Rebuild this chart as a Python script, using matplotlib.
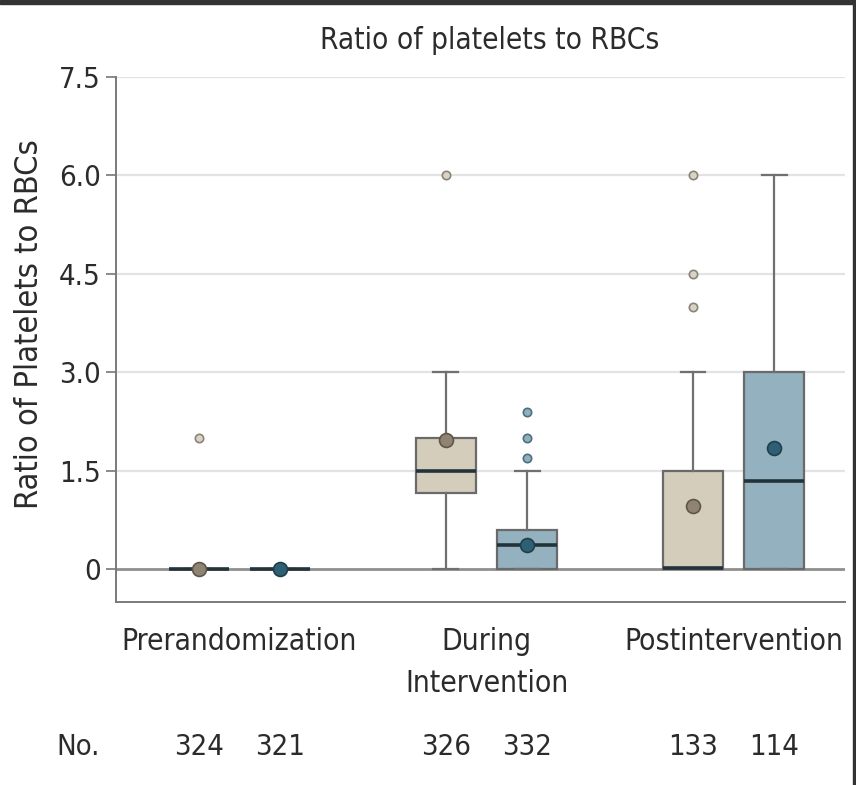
import matplotlib
matplotlib.use("Agg")
import matplotlib.pyplot as plt
from matplotlib.patches import Rectangle

plt.rcParams['font.family'] = ['DejaVu Sans']
plt.rcParams['font.stretch'] = 'condensed'

# data
groups = ["Prerandomization", "During\nIntervention", "Postintervention"]
counts = [324, 321, 326, 332, 133, 114]
q1 = [0.0, 0.0, 1.16, 0.0, 0.0, 0.0]
medians = [0.0, 0.0, 1.5, 0.37, 0.02, 1.34]
q3 = [0.0, 0.0, 2.0, 0.6, 1.5, 3.0]
whis_lo = [0.0, 0.0, 0.0, 0.0, 0.0, 0.0]
whis_hi = [0.0, 0.0, 3.0, 1.5, 3.0, 6.0]
means = [0.0, 0.0, 1.97, 0.37, 0.96, 1.84]
outliers = [[2.0], [], [6.0], [1.7, 2.0, 2.4], [4.0, 4.5, 6.0], []]
yticks = [0, 1.5, 3.0, 4.5, 6.0, 7.5]
ytick_labels = ["0", "1.5", "3.0", "4.5", "6.0", "7.5"]

tan = "#d5cdbc"
blue = "#93b1bf"
txt = "#2b2b2b"

fig = plt.figure(figsize=(8.56, 7.85), dpi=100)
ax = fig.add_axes([0.1355, 0.2331, 0.8515, 0.6688])

offset = 0.165
positions = []
for g in range(len(groups)):
    positions += [g - offset, g + offset]

stats = []
for i in range(len(counts)):
    stats.append(dict(med=medians[i], q1=q1[i], q3=q3[i], whislo=whis_lo[i],
                      whishi=whis_hi[i], mean=means[i], fliers=outliers[i]))

# one call per arm so each gets its own colours
arm_style = [
    (tan, "#8e8471", "#5e5749", "#d9d3c6", "#8a8478"),
    (blue, "#2f5f72", "#1e3f4c", "#8fb0c0", "#4f6f7d"),
]
for a, (fill, mean_fc, mean_ec, fl_fc, fl_ec) in enumerate(arm_style):
    idx = [a, a + 2, a + 4]
    ax.bxp([stats[i] for i in idx], positions=[positions[i] for i in idx],
           widths=0.243, capwidths=0.1, patch_artist=True, showmeans=True,
           boxprops=dict(facecolor=fill, edgecolor="#6a6a6a", linewidth=1.6),
           medianprops=dict(color="#24333a", linewidth=2.6),
           whiskerprops=dict(color="#707070", linewidth=1.6),
           capprops=dict(color="#707070", linewidth=1.6),
           meanprops=dict(marker="o", markersize=10, markerfacecolor=mean_fc,
                          markeredgecolor=mean_ec, markeredgewidth=1.2),
           flierprops=dict(marker="o", markersize=6, markerfacecolor=fl_fc,
                           markeredgecolor=fl_ec, markeredgewidth=1.2))

ax.set_xlim(-0.5, 2.45)
ax.set_ylim(-0.5, 7.5)

for y in yticks[1:]:
    ax.axhline(y, color="#e3e3e3", linewidth=1.6, zorder=0)
ax.axhline(0, color="#8f8f8f", linewidth=2, zorder=1)

ax.set_yticks(yticks)
ax.set_yticklabels(ytick_labels)
ax.tick_params(axis="y", length=7, width=1.2, color="#777777", labelsize=21,
               labelcolor=txt, pad=4)
ax.set_xticks(range(len(groups)))
ax.set_xticklabels(groups, linespacing=1.55)
ax.tick_params(axis="x", length=0, labelsize=21.5, labelcolor=txt, pad=18)

for s in ["top", "right"]:
    ax.spines[s].set_visible(False)
for s in ["left", "bottom"]:
    ax.spines[s].set_color("#7a7a7a")
    ax.spines[s].set_linewidth(1.4)

ax.set_ylabel("Ratio of Platelets to RBCs", fontsize=23.3, color=txt)
ax.yaxis.set_label_coords(-0.097, 0.53)
ax.set_title("Ratio of platelets to RBCs", fontsize=21.3, color=txt, pad=20, x=0.513)

# sample sizes under each box
fig.text(78 / 856, 1 - 747 / 785, "No.", fontsize=21, color=txt, ha="center", va="center")
for pos, n in zip(positions, counts):
    x_fig = ax.transData.transform((pos, 0))[0] / fig.bbox.width
    fig.text(x_fig, 1 - 747 / 785, str(n), fontsize=21, color=txt, ha="center", va="center")

# dark frame at top and right of the original screenshot
fig.patches.append(Rectangle((0, 1 - 4 / 785), 1, 4 / 785, transform=fig.transFigure,
                             color="#333333", zorder=10))
fig.patches.append(Rectangle((1 - 3 / 856, 0), 3 / 856, 1, transform=fig.transFigure,
                             color="#333333", zorder=10))

fig.savefig("out.png", dpi=100)
plt.close(fig)
